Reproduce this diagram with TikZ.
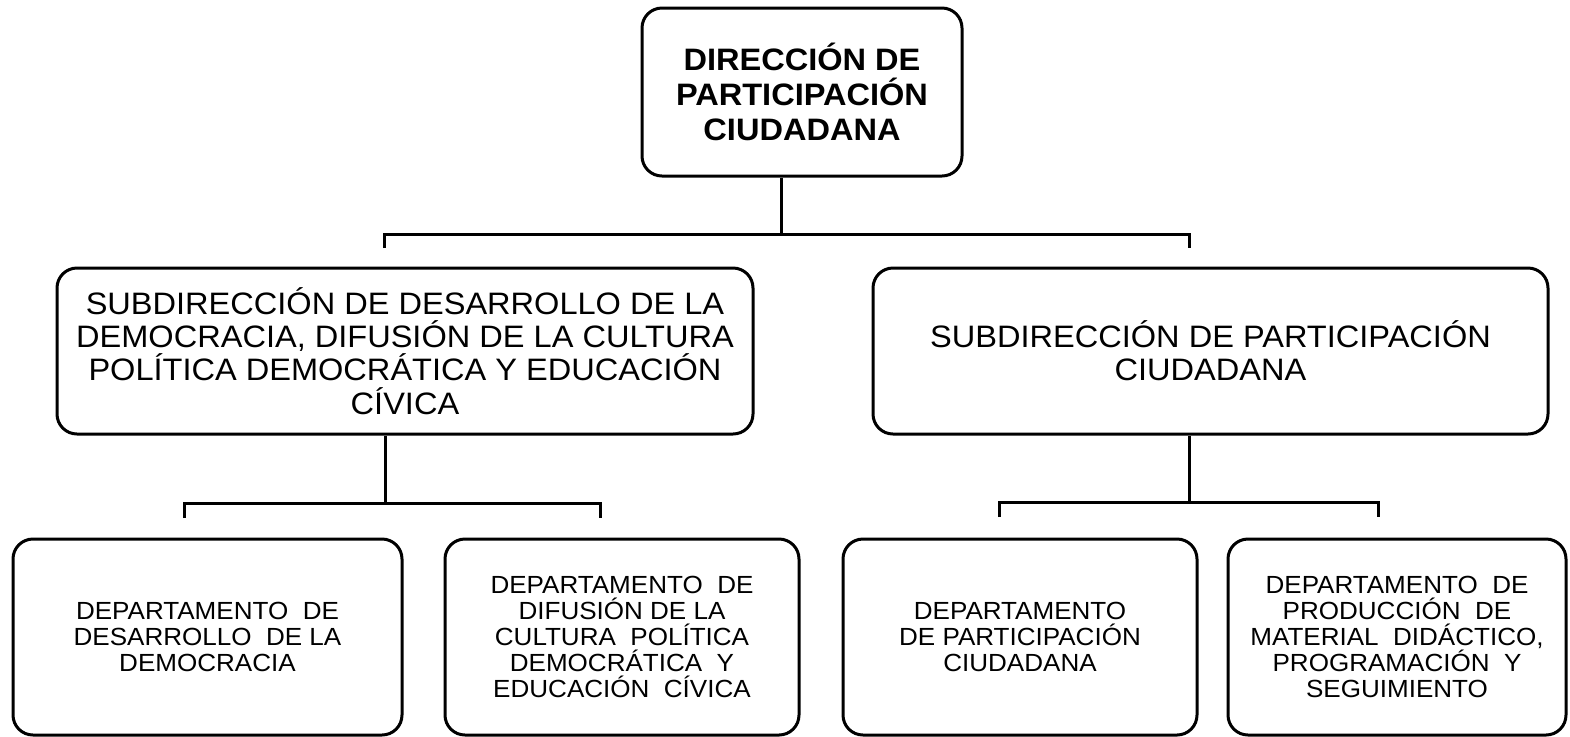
\documentclass[tikz,border=0pt]{standalone}
\usepackage{fontspec}
\setmainfont{Liberation Sans}[FakeStretch=1.05]
\begin{document}
\begin{tikzpicture}[x=0.5pt,y=-0.5pt,
  box/.style={draw=black,line width=1.5pt,rounded corners=10pt,fill=white,
    inner sep=0pt,align=center,text=black},
  topbox/.style={box,minimum width=160pt,minimum height=84pt,
    font=\fontsize{15.5pt}{17.5pt}\selectfont\bfseries},
  subbox/.style={box,minimum height=83pt,
    font=\fontsize{15.5pt}{16.6pt}\selectfont},
  depbox/.style={box,minimum height=98pt,
    font=\fontsize{12.4pt}{13pt}\selectfont},
  conn/.style={line width=1.5pt,draw=black}]
\useasboundingbox (0,0) rectangle (1570,736);

\node[topbox] (top) at (802,92) {DIRECCIÓN DE\\PARTICIPACIÓN\\CIUDADANA};

\node[subbox,minimum width=348pt] (subL) at (405,351)
  {SUBDIRECCIÓN DE DESARROLLO DE LA\\DEMOCRACIA, DIFUSIÓN DE LA CULTURA\\POLÍTICA DEMOCRÁTICA Y EDUCACIÓN\\CÍVICA};
\node[subbox,minimum width=337.5pt] (subR) at (1210.5,351)
  {SUBDIRECCIÓN DE PARTICIPACIÓN\\CIUDADANA};

\node[depbox,minimum width=194.5pt] (d1) at (207.5,637)
  {DEPARTAMENTO\ \ DE\\DESARROLLO\ \ DE LA\\DEMOCRACIA};
\node[depbox,minimum width=177pt] (d2) at (622,637)
  {DEPARTAMENTO\ \ DE\\DIFUSIÓN DE LA\\CULTURA\ \ POLÍTICA\\DEMOCRÁTICA\ \ Y\\EDUCACIÓN\ \ CÍVICA};
\node[depbox,minimum width=177pt] (d3) at (1020,637)
  {DEPARTAMENTO\\DE PARTICIPACIÓN\\CIUDADANA};
\node[depbox,minimum width=169pt] (d4) at (1397,637)
  {DEPARTAMENTO\ \ DE\\PRODUCCIÓN\ \ DE\\MATERIAL\ \ DIDÁCTICO,\\PROGRAMACIÓN\ \ Y\\SEGUIMIENTO};

% level 1 bracket
\coordinate (j0) at (781,234);
\coordinate (t1) at (384,248);
\coordinate (t2) at (1189,248);
\draw[conn] (top.south -| j0) -- (j0);
\draw[conn] (t1) -- (t1 |- j0) -- (t2 |- j0) -- (t2);

% left sub bracket
\coordinate (jL) at (385,503);
\coordinate (l1) at (184,518);
\coordinate (l2) at (600,518);
\draw[conn] (subL.south -| jL) -- (jL);
\draw[conn] (l1) -- (l1 |- jL) -- (l2 |- jL) -- (l2);

% right sub bracket
\coordinate (jR) at (1189,502);
\coordinate (r1) at (999,517);
\coordinate (r2) at (1378,517);
\draw[conn] (subR.south -| jR) -- (jR);
\draw[conn] (r1) -- (r1 |- jR) -- (r2 |- jR) -- (r2);
\end{tikzpicture}
\end{document}
